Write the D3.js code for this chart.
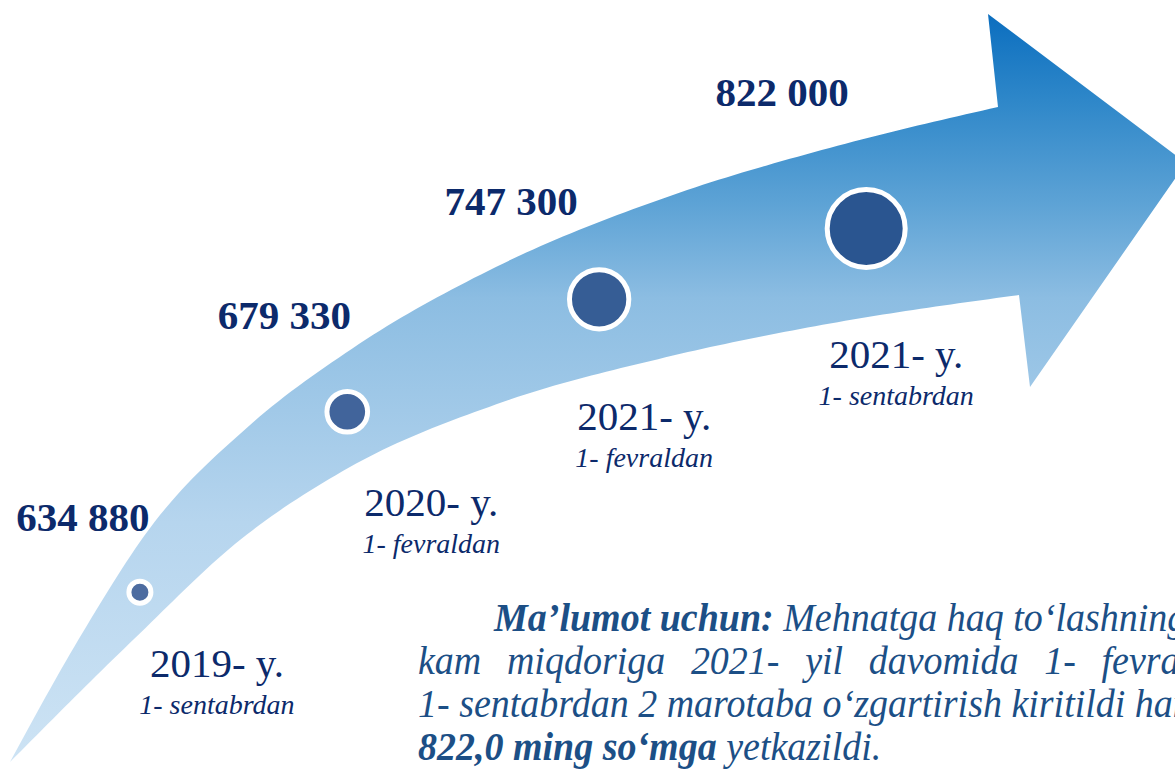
<!DOCTYPE html>
<html>
<head>
<meta charset="utf-8">
<title>Mehnatga haq to‘lashning eng kam miqdori</title>
<script src="https://d3js.org/d3.v7.min.js"></script>
<style>
  body { margin: 0; background: #fff; }
  svg { display: block; font-family: "Liberation Serif", "Times New Roman", serif; }
</style>
</head>
<body>
<svg id="chart" width="1175" height="769"></svg>
<script>
// ma'lumotlar (so'm)
const periods = ["2019-09", "2020-02", "2021-02", "2021-09"]
const values = [634880, 679330, 747300, 822000]
const yearLabels = ["2019- y.", "2020- y.", "2021- y.", "2021- y."]
const dateLabels = ["1- sentabrdan", "1- fevraldan", "1- fevraldan", "1- sentabrdan"]

// fon strelkasi (bezak shakli)
const upperEdge = [[10, 762], [80, 637], [150, 528], [250, 425], [350, 350], [500, 265], [667, 197], [833, 147], [998, 107]]
const lowerEdge = [[10, 762], [133, 640], [240, 540], [350, 467], [500, 403], [667, 357], [833, 323], [1019, 295]]
const arrowHead = [[988, 14], [1186, 163], [1030, 387]]

const svg = d3.select("#chart")
const fmt = d3.formatLocale({ decimal: ",", thousands: "\u00a0", grouping: [3], currency: ["", ""] }).format(",d")

// gradient
const grad = svg.append("defs").append("linearGradient")
  .attr("id", "arrowFill")
  .attr("gradientUnits", "userSpaceOnUse")
  .attr("x1", 0).attr("y1", 14).attr("x2", 0).attr("y2", 762)
const stops = [[0, "#0b6ebf"], [0.115, "#2e87c9"], [0.25, "#5ca2d5"], [0.38, "#8cbde2"], [0.68, "#b6d5ee"], [1, "#cde3f4"]]
grad.selectAll("stop").data(stops).enter().append("stop")
  .attr("offset", d => d[0]).attr("stop-color", d => d[1])

// chetlarni nuqtalarga bo'lib olish
const curve = d3.line().curve(d3.curveMonotoneX)
function sample(pts, n) {
  const tmp = svg.append("path").attr("d", curve(pts)).attr("fill", "none").node()
  const len = tmp.getTotalLength()
  const out = d3.range(0, n + 1).map(k => {
    const p = tmp.getPointAtLength(len * k / n)
    return [p.x, p.y]
  })
  tmp.remove()
  return out
}
const upperPts = sample(upperEdge, 150)
const lowerPts = sample(lowerEdge, 150)

// strelka
const headPart = arrowHead.map(p => "L" + p[0] + "," + p[1]).join("")
const arrowPath = d3.line()(upperPts) + headPart + d3.line()(lowerPts.slice().reverse()).replace(/^M/, "L") + "Z"
svg.append("path")
  .attr("d", arrowPath)
  .attr("fill", "url(#arrowFill)")

// o'rta chiziq - doiralar shu bo'ylab joylashadi
const midLine = upperPts.map((p, i) => [(p[0] + lowerPts[i][0]) / 2, (p[1] + lowerPts[i][1]) / 2])
const guide = svg.append("path")
  .attr("d", d3.line().curve(d3.curveBasis)(midLine))
  .attr("fill", "none")
  .attr("stroke", "none")
const guideLen = guide.node().getTotalLength()

const along = d3.scalePoint().domain(periods).range([0.18, 0.878])
const radius = d3.scalePoint().domain(periods).range([11, 39])
const fill = d3.scaleLinear().domain([0, 3]).range(["#4d6ca0", "#2a5590"])
// yozuvlarning doiraga nisbatan siljishi
const valDx = d3.scaleLinear().domain([0, 1, 2, 3]).range([-57, -63, -88, -84])
const valDy = d3.scaleLinear().domain([0, 1, 2, 3]).range([-61, -83, -84, -122])
const yrDx = d3.scaleLinear().domain([0, 1, 2, 3]).range([77, 84, 45, 30])
const yrDy = d3.scaleLinear().domain([0, 1, 2, 3]).range([85, 104, 131, 140])

const points = periods.map((p, i) => {
  const pt = guide.node().getPointAtLength(along(p) * guideLen)
  return { period: p, value: values[i], year: yearLabels[i], date: dateLabels[i], x: pt.x, y: pt.y, i: i }
})

// doiralar
svg.selectAll("circle.dot")
  .data(points)
  .enter()
  .append("circle")
  .attr("class", "dot")
  .attr("cx", d => d.x)
  .attr("cy", d => d.y)
  .attr("r", d => radius(d.period))
  .attr("fill", d => fill(d.i))
  .attr("stroke", "#fff")
  .attr("stroke-width", 5)

// qiymatlar
svg.selectAll("text.value")
  .data(points)
  .enter()
  .append("text")
  .attr("class", "value")
  .attr("x", d => d.x + valDx(d.i))
  .attr("y", d => d.y + valDy(d.i))
  .attr("text-anchor", "middle")
  .attr("font-size", 41)
  .attr("font-weight", "bold")
  .attr("fill", "#0c2a6b")
  .text(d => fmt(d.value))

// yillar
const yr = svg.selectAll("g.year")
  .data(points)
  .enter()
  .append("g")
  .attr("class", "year")
  .attr("transform", d => `translate(${d.x + yrDx(d.i)},${d.y + yrDy(d.i)})`)
  .attr("text-anchor", "middle")
  .attr("fill", "#0c2a6b")
yr.append("text")
  .attr("font-size", 41)
  .text(d => d.year)
yr.append("text")
  .attr("y", 37)
  .attr("font-size", 28)
  .attr("font-style", "italic")
  .text(d => d.date)

// izoh matni (biroz siqilgan shrift)
const note = svg.append("g")
  .attr("fill", "#1c4f86")
  .attr("font-style", "italic")
  .attr("font-size", 40)

function noteLine(x, y) {
  return note.append("text").attr("transform", `translate(${x},${y}) scale(0.95,1)`)
}

const l1 = noteLine(494, 631)
l1.append("tspan").attr("font-weight", "bold").text("Ma’lumot uchun:")
l1.append("tspan").text(" Mehnatga haq to‘lashning")

noteLine(418, 674)
  .attr("word-spacing", 17)
  .text("kam miqdoriga 2021- yil davomida 1- fevraldan")

noteLine(418, 717)
  .text("1- sentabrdan 2 marotaba o‘zgartirish kiritildi hamda")

const l4 = noteLine(418, 760)
l4.append("tspan").attr("font-weight", "bold").text("822,0 ming so‘mga")
l4.append("tspan").text(" yetkazildi.")
</script>
</body>
</html>
